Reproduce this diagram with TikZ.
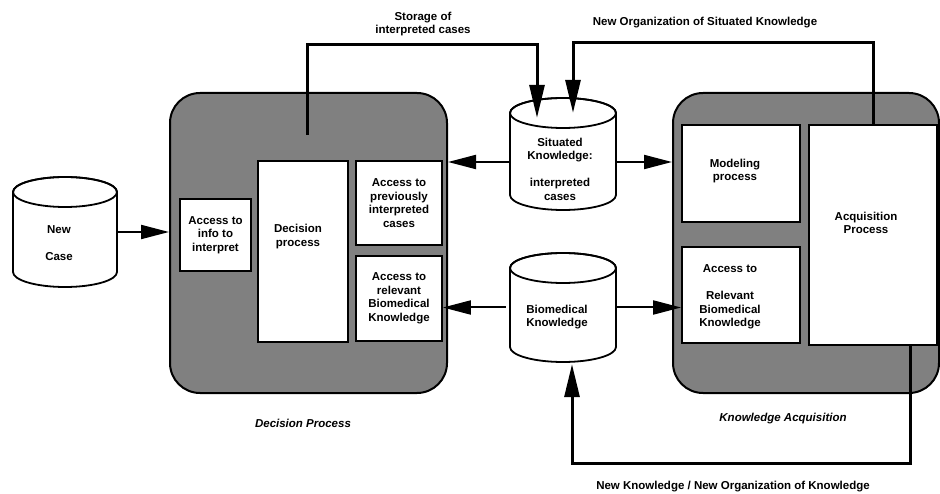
\documentclass[tikz,border=0pt]{standalone}
\usepackage{fontspec}
\setmainfont{Liberation Sans}
\usetikzlibrary{arrows.meta,calc}
\definecolor{boxgray}{RGB}{128,128,128}
\begin{document}
\begin{tikzpicture}[x=1pt,y=-1pt,
  every node/.style={font=\fontsize{11.5}{13.5}\selectfont\bfseries, align=center, inner sep=0pt},
  graybox/.style={draw, line width=2pt, fill=boxgray, rounded corners=30pt},
  wbox/.style={draw, line width=1.8pt, fill=white},
  cyl/.style={draw, line width=1.8pt, fill=white},
  arr/.style={line width=2pt, -{Triangle[length=28pt,width=14pt]}},
  fb/.style={line width=3pt},
  fbarr/.style={line width=3pt, -{Triangle[length=33pt,width=15pt]}},
  lbl/.style={font=\fontsize{11.5}{13}\selectfont\bfseries},
  ilbl/.style={font=\fontsize{11.5}{13}\selectfont\bfseries\itshape}]
\useasboundingbox (0,0) rectangle (940,494);

% gray process boxes
\node[graybox, minimum width=277pt, minimum height=300pt] (lg) at (308.5,243) {};
\node[graybox, minimum width=266pt, minimum height=300pt] (rg) at (806,243) {};

% left inner boxes
\node[wbox, minimum width=71pt, minimum height=72pt] (ai) at (215.5,235) {Access to\\ info to\\interpret};
\node[wbox, minimum width=90pt, minimum height=181pt] (dp) at (303,251.5) {};
\node (dpt) at (298,236.5) {Decision\\process};
\node[wbox, minimum width=86pt, minimum height=84pt] (ap1) at (399,203) {Access to\\previously\\interpreted\\cases};
\node[wbox, minimum width=86pt, minimum height=85pt] (ar1) at (399,298.5) {Access to\\relevant\\Biomedical\\Knowledge};

% right inner boxes
\node[wbox, minimum width=118pt, minimum height=97pt] (mp) at (741,173.5) {};
\node (mpt) at (735,171) {Modeling\\process};
\node[wbox, minimum width=118pt, minimum height=96pt] (ar2) at (741,295) {};
\node (ar2t) at (730,297) {Access to\\[13.5pt]Relevant\\Biomedical\\Knowledge};
\node[wbox, minimum width=128pt, minimum height=220pt] (aq) at (873,235) {};
\node (aqt) at (866,223) {Acquisition\\Process};

% cylinders
% New Case
\path[cyl] (13,192) -- (13,272) arc[start angle=180,end angle=360,x radius=52pt,y radius=15pt]
  -- (117,192) arc[start angle=0,end angle=180,x radius=52pt,y radius=15pt] -- cycle;
\draw[line width=1.8pt] (65,192) ellipse[x radius=52pt,y radius=15pt];
\node[minimum width=104pt, minimum height=80pt] (nc) at (65,232) {};
\node (nct) at (59,243.5) {New\\[13.5pt]Case};

% Situated Knowledge
\path[cyl] (510,113) -- (510,195) arc[start angle=180,end angle=360,x radius=53pt,y radius=15pt]
  -- (616,113) arc[start angle=0,end angle=180,x radius=53pt,y radius=15pt] -- cycle;
\draw[line width=1.8pt] (563,113) ellipse[x radius=53pt,y radius=15pt];
\node[minimum width=106pt, minimum height=82pt] (sc) at (563,154) {};
\node (sct) at (560,169) {Situated\\Knowledge:\\[13.5pt]interpreted\\cases};

% Biomedical Knowledge
\path[cyl] (510,268) -- (510,347) arc[start angle=180,end angle=360,x radius=53pt,y radius=15pt]
  -- (616,268) arc[start angle=0,end angle=180,x radius=53pt,y radius=15pt] -- cycle;
\draw[line width=1.8pt] (563,268) ellipse[x radius=53pt,y radius=15pt];
\node[minimum width=106pt, minimum height=79pt] (bc) at (563,307.5) {};
\node (bct) at (557,317) {Biomedical\\Knowledge};

% straight connectors
\draw[arr] (nc.east) -- (nc.east -| lg.west);
\coordinate (s1) at ([yshift=-8pt]sc.west);
\coordinate (s2) at ([yshift=-8pt]sc.east);
\draw[arr] (s1) -- (s1 -| lg.east);
\draw[arr] (s2) -- (s2 -| rg.west);
\draw[arr] ([xshift=-4pt]bc.west) -- (bc.west -| ar1.east);
\draw[arr] (bc.east) -- (bc.east -| ar2.west);

% feedback connectors
\coordinate (st) at (307,135);
\coordinate (topL) at (0,45);
\coordinate (topR) at (0,43);
\coordinate (botY) at (0,463);
\draw[fbarr] (st) -- (st |- topL) -| ([xshift=-26pt,yshift=-5pt]sc.north);
\draw[fbarr] (aq.north) -- (aq.north |- topR) -| ([xshift=10pt]sc.north);
\coordinate (aqb) at ([xshift=37pt]aq.south);
\draw[fbarr] (aqb) -- (aqb |- botY) -| ([xshift=9pt,yshift=-17pt]bc.south);

% labels
\node[lbl] (l1) at (423,24.5) {Storage of\\interpreted cases};
\node[lbl] (l2) at (705,23) {New Organization of Situated Knowledge};
\node[lbl] (l3) at (733,487) {New Knowledge / New Organization of Knowledge};
\node[ilbl] (l4) at (303,423) {Decision Process};
\node[ilbl] (l5) at (783,419) {Knowledge Acquisition};
\end{tikzpicture}
\end{document}
